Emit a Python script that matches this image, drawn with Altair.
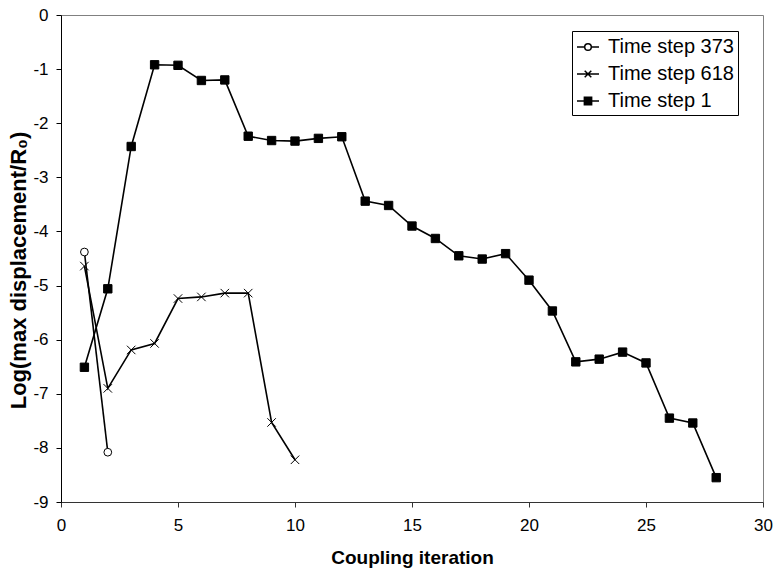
import altair as alt
import pandas as pd

# ---------------- data ----------------
series_names = ["Time step 373", "Time step 618", "Time step 1"]

iters_373 = [1, 2]
vals_373 = [-4.38, -8.08]

iters_618 = [1, 2, 3, 4, 5, 6, 7, 8, 9, 10]
vals_618 = [-4.64, -6.90, -6.19, -6.07, -5.24, -5.21, -5.14, -5.14, -7.53, -8.22]

iters_1 = [1, 2, 3, 4, 5, 6, 7, 8, 9, 10, 11, 12, 13, 14,
           15, 16, 17, 18, 19, 20, 21, 22, 23, 24, 25, 26, 27, 28]
vals_1 = [-6.51, -5.06, -2.43, -0.92, -0.93, -1.21, -1.20, -2.24, -2.32, -2.33,
          -2.28, -2.25, -3.44, -3.52, -3.90, -4.13, -4.45, -4.51, -4.41, -4.90,
          -5.47, -6.41, -6.36, -6.23, -6.43, -7.45, -7.54, -8.55]

x_ticks = [0, 5, 10, 15, 20, 25, 30]
y_ticks = [0, -1, -2, -3, -4, -5, -6, -7, -8, -9]

rows = []
for name, xs, ys in zip(series_names, [iters_373, iters_618, iters_1],
                        [vals_373, vals_618, vals_1]):
    for xv, yv in zip(xs, ys):
        rows.append({"series": name, "iteration": xv, "value": yv})
df = pd.DataFrame(rows)

FONT = "Liberation Sans"

x_enc = alt.X(
    "iteration:Q",
    scale=alt.Scale(domain=[0, 30], nice=False, zero=False),
    axis=alt.Axis(values=x_ticks, title="Coupling iteration", grid=False,
                  domainColor="#333333", tickColor="#333333", tickSize=5,
                  labelExpr="'' + datum.value",
                  labelFont=FONT, labelFontSize=17, labelColor="black", labelPadding=10,
                  titleFont=FONT, titleFontSize=19, titleFontWeight="bold",
                  titleColor="black", titlePadding=15, labelFlush=False),
)
y_enc = alt.Y(
    "value:Q",
    scale=alt.Scale(domain=[-9, 0], nice=False, zero=False),
    axis=alt.Axis(values=y_ticks, title="Log(max displacement/R₀)", grid=False,
                  domainColor="black", tickColor="black", tickSize=5,
                  labelExpr="'' + datum.value",
                  labelFont=FONT, labelFontSize=17, labelColor="black", labelPadding=8,
                  titleFont=FONT, titleFontSize=22, titleFontWeight="bold",
                  titleColor="black", titleX=-31, titleY=255, labelFlush=False),
)

base = alt.Chart(df)

lines = base.mark_line(color="black", strokeWidth=1.6).encode(
    x=x_enc, y=y_enc, detail="series:N", order="iteration:Q"
)

X_PATH = "M-1,-1L1,1M-1,1L1,-1"

pts_373 = base.transform_filter(alt.datum.series == "Time step 373").mark_point(
    shape="circle", size=60, filled=True, fill="white", stroke="black",
    strokeWidth=1, opacity=1
).encode(x="iteration:Q", y="value:Q")

pts_618 = base.transform_filter(alt.datum.series == "Time step 618").mark_point(
    shape=X_PATH, size=72, filled=False, stroke="black", strokeWidth=1, opacity=1
).encode(x="iteration:Q", y="value:Q")

pts_1 = base.transform_filter(alt.datum.series == "Time step 1").mark_point(
    shape="square", size=70, filled=True, fill="black", stroke="black",
    strokeWidth=1, opacity=1
).encode(x="iteration:Q", y="value:Q")

# legend carrier layer (invisible marks, legend symbols = line + marker)
legend_paths = [
    "M-1,0H-0.3M0.3,0H1M0.3,0A0.3,0.3 0 1,1 -0.3,0A0.3,0.3 0 1,1 0.3,0",
    "M-1,0H1M-0.3,-0.3L0.3,0.3M-0.3,0.3L0.3,-0.3",
    "M-1,0H1M-0.33,-0.33H0.33V0.33H-0.33Z",
]
leg = alt.Legend(
    title=None, orient="none", legendX=511, legendY=16,
    strokeColor="black", fillColor="white", padding=4, cornerRadius=0,
    labelFont=FONT, labelFontSize=20, labelColor="black", labelOffset=8,
    symbolSize=484, symbolStrokeWidth=1.5, symbolStrokeColor="black",
    symbolOpacity=1, rowPadding=5,
)
legend_layer = base.mark_point(
    filled=True, opacity=0, size=484, strokeWidth=1.5
).encode(
    x="iteration:Q", y="value:Q",
    shape=alt.Shape("series:N", scale=alt.Scale(domain=series_names, range=legend_paths), legend=leg),
    fill=alt.Fill("series:N", scale=alt.Scale(domain=series_names, range=["white", "black", "black"]), legend=leg),
    stroke=alt.Stroke("series:N", scale=alt.Scale(domain=series_names, range=["black", "black", "black"]), legend=leg),
)

chart = alt.layer(lines, pts_373, pts_618, pts_1, legend_layer).properties(
    width=702, height=487,
    autosize=alt.AutoSizeParams(type="none"),
    padding={"left": 61, "top": 15, "right": 13, "bottom": 69},
    background="white",
).configure_view(stroke="#808080", strokeWidth=1)

chart.save("out.html", embed_options={"renderer": "svg", "actions": False})
